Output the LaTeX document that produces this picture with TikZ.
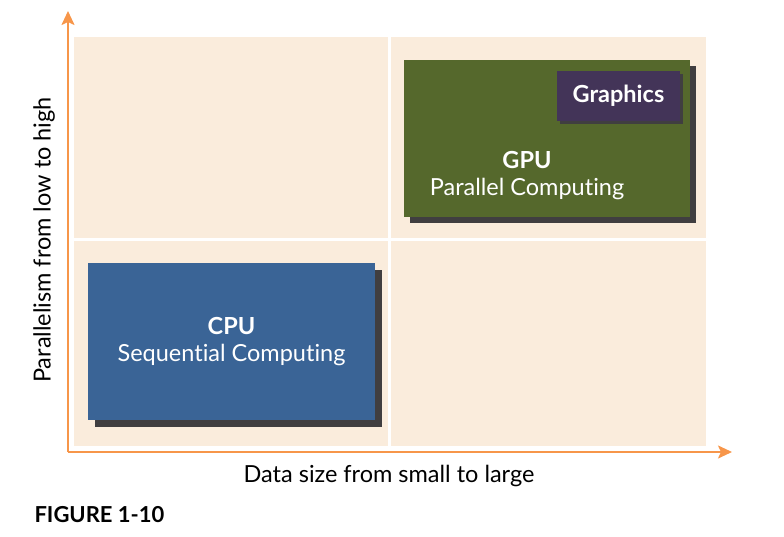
\documentclass[tikz,border=0pt]{standalone}
\usepackage{fontspec}
\setmainfont{Lato}[Ligatures=NoCommon]
\usetikzlibrary{shadows, arrows.meta}
\definecolor{panelbg}{RGB}{250,236,220}
\definecolor{axisorange}{RGB}{247,150,74}
\definecolor{gpugreen}{RGB}{85,104,44}
\definecolor{cpublue}{RGB}{58,100,150}
\definecolor{gfxpurple}{RGB}{67,52,88}
\definecolor{shadowgray}{RGB}{64,62,64}
\tikzset{
	axisstyle/.style={draw=axisorange, line width=2pt, -{Stealth[length=14pt, width=13pt, inset=3pt]}},
	labelstyle/.style={font=\fontsize{23.5}{29}\selectfont},
	boxstyle/.style={rectangle, inner sep=0pt, text=white, align=center,
		font=\fontsize{23.5}{27}\selectfont},
	cpustyle/.style={boxstyle, fill=cpublue, minimum width=287, minimum height=157,
		drop shadow={shadow xshift=7pt, shadow yshift=-7pt, fill=shadowgray, opacity=1}},
	gpustyle/.style={boxstyle, fill=gpugreen, minimum width=286, minimum height=157,
		drop shadow={shadow xshift=6pt, shadow yshift=-6pt, fill=shadowgray, opacity=1}},
	gfxstyle/.style={boxstyle, fill=gfxpurple, minimum width=123, minimum height=50,
		drop shadow={shadow xshift=3pt, shadow yshift=-3pt, fill=shadowgray, opacity=1}}
}
\begin{document}
\begin{tikzpicture}[x=1pt, y=-1pt]
	\useasboundingbox (0,0) rectangle (784,537);
	% quadrants
	\fill[panelbg] (74,37) rectangle (706,446);
	\draw[white, line width=3pt] (389,37) -- (389,446);
	\draw[white, line width=3pt] (74,240) -- (706,240);
	% axes
	\coordinate (o) at (68,452);
	\coordinate (ytip) at (68,11);
	\coordinate (xtip) at (732,452);
	\draw[axisstyle] (o) -- (ytip);
	\draw[axisstyle] (o) -- (xtip);
	\node[rotate=90, labelstyle] (ylab) at (44,240) {Parallelism from low to high};
	\node[labelstyle] (xlab) at (389,476) {Data size from small to large};
	% boxes
	\node[cpustyle] (cpu) at (231.5,341.5) {\textbf{CPU}\\Sequential Computing};
	\node[gpustyle] (gpu) at (547,138.5) {};
	\node[boxstyle] (gputxt) at (527,175.5) {\textbf{GPU}\\Parallel Computing};
	\node[gfxstyle] (gfx) at (618.5,96) {\textbf{Graphics}};
	\node[anchor=west, font=\fontsize{22}{26}\selectfont\bfseries] (fig) at (31,515) {FIGURE 1-10};
\end{tikzpicture}
\end{document}
